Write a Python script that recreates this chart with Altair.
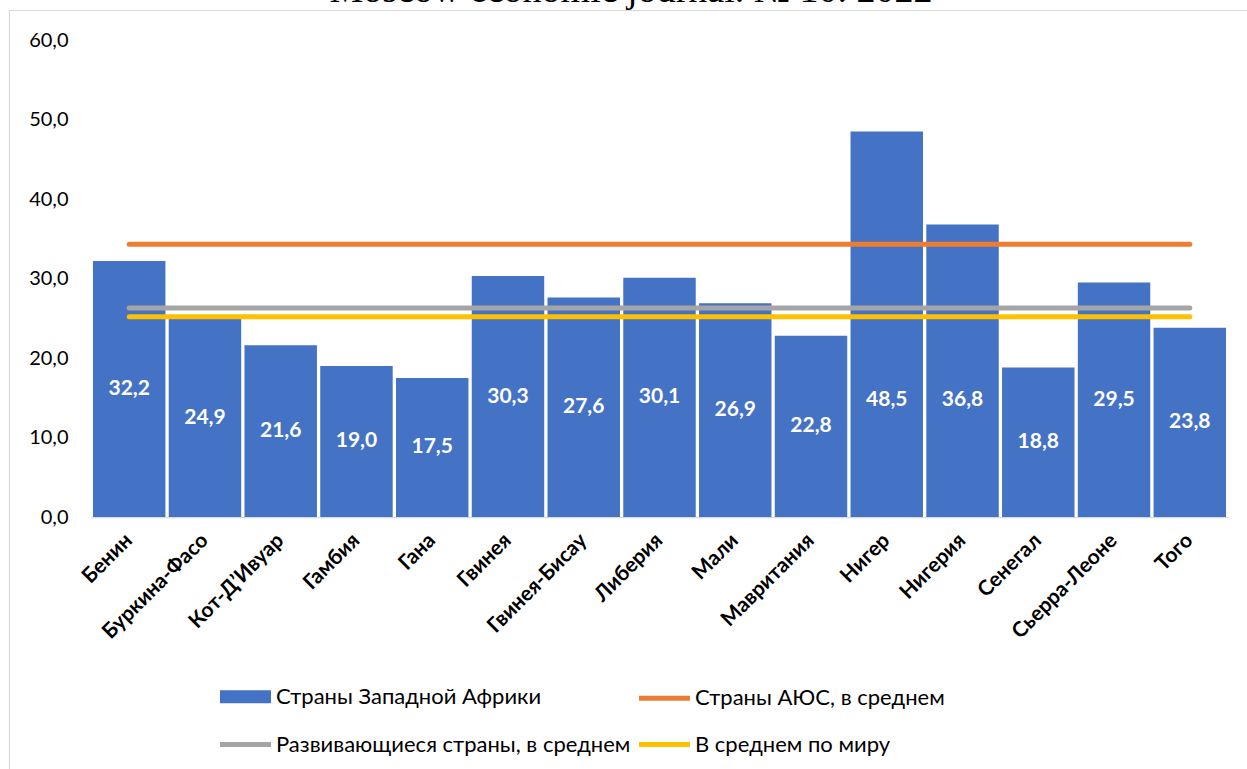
import altair as alt
import pandas as pd

# Source line cut off at the top edge
journal = "Moscow economic journal. № 10. 2022"

countries = [
    "Бенин", "Буркина-Фасо", "Кот-Д’Ивуар", "Гамбия", "Гана", "Гвинея",
    "Гвинея-Бисау", "Либерия", "Мали", "Мавритания", "Нигер", "Нигерия",
    "Сенегал", "Сьерра-Леоне", "Того",
]
shares = [32.2, 24.9, 21.6, 19.0, 17.5, 30.3, 27.6, 30.1, 26.9, 22.8,
          48.5, 36.8, 18.8, 29.5, 23.8]

bar_series = "Страны Западной Африки"
avg_series = ["Страны АЮС, в среднем", "Развивающиеся страны, в среднем",
              "В среднем по миру"]
avg_values = [34.3, 26.3, 25.2]

series_colors = ["#4472C4", "#ED7D31", "#A5A5A5", "#FFC000"]
y_ticks = [0, 10, 20, 30, 40, 50, 60]

# Value labels of the two tallest bars are lowered below the average lines
label_anchor_override = {"Нигер": 14.7, "Нигерия": 14.7}

FONT = "Lato"
W, H = 1137, 477
PAD = {"left": 91, "right": 19, "top": 40, "bottom": 252}

bars_df = pd.DataFrame({"country": countries, "share": shares, "series": bar_series})
avg_df = pd.DataFrame({
    "series": avg_series,
    "value": avg_values,
    "start": countries[0],
    "end": countries[-1],
})

x_scale = alt.Scale(domain=countries, paddingInner=0.0435, paddingOuter=0.026)
y_scale = alt.Scale(domain=[0, 60], nice=False, zero=True)

rect_path = "M-2.3,-0.4H2.3V0.4H-2.3Z"
line_path = "M-2.55,0H2.55"
symbol_expr = f"datum.value === '{bar_series}' ? '{rect_path}' : '{line_path}'"

color = alt.Color(
    "series:N",
    scale=alt.Scale(domain=[bar_series] + avg_series, range=series_colors),
    legend=alt.Legend(
        title=None,
        orient="none",
        direction="horizontal",
        legendX=142,
        legendY=644,
        columns=2,
        padding=0,
        rowPadding=21,
        columnPadding=-2,
        symbolType={"expr": symbol_expr},
        symbolSize=400,
        symbolStrokeWidth=5,
        labelOffset=18,
        labelFont=FONT,
        labelFontSize=22,
        labelColor="#000000",
        labelLimit=600,
    ),
)

bars = alt.Chart(bars_df).mark_bar(color="#4472C4").encode(
    x=alt.X(
        "country:N",
        scale=x_scale,
        sort=None,
        title=None,
        axis=alt.Axis(
            labelAngle=-45,
            labelAlign="right",
            labelBaseline="middle",
            labelPadding=20,
            labelFont=FONT,
            labelFontSize=21,
            labelFontWeight="bold",
            labelColor="#000000",
            ticks=False,
            domainColor="#D9D9D9",
            domainWidth=1.5,
            grid=False,
        ),
    ),
    y=alt.Y(
        "share:Q",
        scale=y_scale,
        title=None,
        axis=alt.Axis(
            values=y_ticks,
            labelExpr="replace(format(datum.value, '.1f'), '.', ',')",
            labelFont=FONT,
            labelFontSize=20,
            labelColor="#000000",
            labelPadding=23,
            ticks=False,
            tickSize=0,
            domain=False,
            grid=False,
        ),
    ),
    color=color,
)

override_expr = " : ".join(
    [f"datum.country === '{k}' ? {v}" for k, v in label_anchor_override.items()]
    + ["datum.share / 2"]
)

labels = alt.Chart(bars_df).transform_calculate(
    mid=override_expr,
    label="replace(format(datum.share, '.1f'), '.', ',')",
).mark_text(
    color="white", font=FONT, fontSize=21, fontWeight="bold", baseline="middle"
).encode(
    x=alt.X("country:N", scale=x_scale, sort=None),
    y=alt.Y("mid:Q", scale=y_scale),
    text="label:N",
)

averages = alt.Chart(avg_df).mark_rule(strokeWidth=5, strokeCap="round").encode(
    x=alt.X("start:N", scale=x_scale, bandPosition=0.5),
    x2=alt.X2("end:N", bandPosition=0.5),
    y=alt.Y("value:Q", scale=y_scale),
    color=color,
)

title = alt.Chart(pd.DataFrame({"t": [journal]})).mark_text(
    font="Liberation Serif", fontSize=38, align="center", baseline="alphabetic",
    color="#000000",
).encode(x=alt.value(540), y=alt.value(-38), text="t:N")

# Chart-area frame: top and left edges
frame_top = alt.Chart(pd.DataFrame({"k": [0]})).mark_rule(
    color="#D9D9D9", strokeWidth=1.2
).encode(x=alt.value(-82), x2=alt.value(1160), y=alt.value(-29.5))
frame_left = alt.Chart(pd.DataFrame({"k": [0]})).mark_rule(
    color="#D9D9D9", strokeWidth=1.2
).encode(x=alt.value(-81.5), y=alt.value(-30), y2=alt.value(740))

chart = alt.layer(
    frame_top, frame_left, title, bars, labels, averages
).properties(
    width=W,
    height=H,
    padding=PAD,
    autosize=alt.AutoSizeParams(type="none"),
    background="white",
).configure_view(stroke=None)

chart.save("out.html", embed_options={"renderer": "svg", "actions": False})
